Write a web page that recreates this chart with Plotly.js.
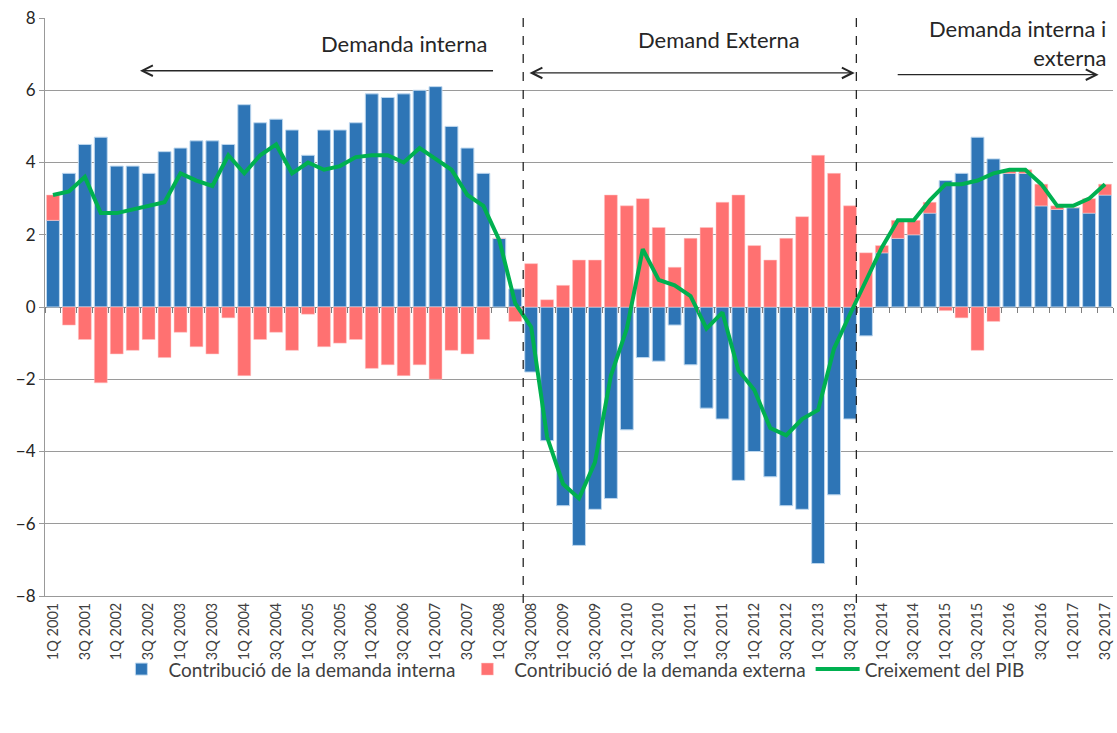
<!DOCTYPE html>
<html>
<head>
<meta charset="utf-8">
<script src="https://cdn.plot.ly/plotly-3.0.1.min.js"></script>
<style>html,body{margin:0;padding:0;background:#fff;}#chart{width:1117px;height:733px;}</style>
</head>
<body>
<div id="chart"></div>
<script>
// Quarter labels 1Q 2001 ... 3Q 2017
var years = [2001,2002,2003,2004,2005,2006,2007,2008,2009,2010,2011,2012,2013,2014,2015,2016,2017];
var quarterNames = ["1Q","2Q","3Q","4Q"];
var quarters = [];
years.forEach(function(y){ quarterNames.forEach(function(q){ quarters.push(q + " " + y); }); });
quarters = quarters.slice(0, 67);

// Contribució de la demanda interna
var demandaInterna = [
  2.4, 3.7, 4.5, 4.7, 3.9, 3.9, 3.7, 4.3,
  4.4, 4.6, 4.6, 4.5, 5.6, 5.1, 5.2, 4.9,
  4.2, 4.9, 4.9, 5.1, 5.9, 5.8, 5.9, 6.0,
  6.1, 5.0, 4.4, 3.7, 1.9, 0.5, -1.8, -3.7,
  -5.5, -6.6, -5.6, -5.3, -3.4, -1.4, -1.5, -0.5,
  -1.6, -2.8, -3.1, -4.8, -4.0, -4.7, -5.5, -5.6,
  -7.1, -5.2, -3.1, -0.8, 1.5, 1.9, 2.0, 2.6,
  3.5, 3.7, 4.7, 4.1, 3.7, 3.7, 2.8, 2.7,
  2.75, 2.6, 3.1
];
// Contribució de la demanda externa
var demandaExterna = [
  0.7, -0.5, -0.9, -2.1, -1.3, -1.2, -0.9, -1.4,
  -0.7, -1.1, -1.3, -0.3, -1.9, -0.9, -0.7, -1.2,
  -0.2, -1.1, -1.0, -0.9, -1.7, -1.6, -1.9, -1.6,
  -2.0, -1.2, -1.3, -0.9, 0.0, -0.4, 1.2, 0.2,
  0.6, 1.3, 1.3, 3.1, 2.8, 3.0, 2.2, 1.1,
  1.9, 2.2, 2.9, 3.1, 1.7, 1.3, 1.9, 2.5,
  4.2, 3.7, 2.8, 1.5, 0.2, 0.5, 0.4, 0.3,
  -0.1, -0.3, -1.2, -0.4, 0.1, 0.1, 0.6, 0.1,
  0.0, 0.4, 0.3
];
// Creixement del PIB
var creixementPIB = [
  3.1, 3.2, 3.6, 2.6, 2.6, 2.7, 2.8, 2.9,
  3.7, 3.5, 3.35, 4.2, 3.7, 4.2, 4.5, 3.7,
  4.0, 3.8, 3.9, 4.15, 4.2, 4.2, 4.0, 4.4,
  4.1, 3.8, 3.1, 2.8, 1.85, 0.1, -0.55, -3.6,
  -4.9, -5.3, -4.3, -1.9, -0.6, 1.6, 0.75, 0.6,
  0.3, -0.6, -0.15, -1.75, -2.3, -3.35, -3.55, -3.1,
  -2.85, -1.15, -0.2, 0.75, 1.65, 2.4, 2.4, 2.95,
  3.4, 3.4, 3.5, 3.7, 3.8, 3.8, 3.4, 2.8,
  2.8, 3.0, 3.4
];
var tickLabels = quarters.filter(function(q, i){ return i % 2 === 0; });

var FONT = "Lato, 'Open Sans', sans-serif";
var traces = [
  {type:'bar', name:'Contribució de la demanda interna', x:quarters, y:demandaInterna,
   marker:{color:'#2E75B6', line:{color:'#BDD7EE', width:1}}, hoverinfo:'x+y'},
  {type:'bar', name:'Contribució de la demanda externa', x:quarters, y:demandaExterna,
   marker:{color:'#FF7171', line:{color:'#FFC7C7', width:0.5}}, hoverinfo:'x+y'},
  {type:'scatter', mode:'lines', name:'Creixement del PIB', x:quarters, y:creixementPIB,
   line:{color:'#00B050', width:4}},
  {type:'scatter', mode:'lines', x:quarters, y:quarters.map(function(){return null;}),
   xaxis:'x2', showlegend:false, hoverinfo:'skip'}
];

var layout = {
  width:1117, height:733,
  margin:{l:45, r:4, t:18, b:137, autoexpand:false},
  paper_bgcolor:'#fff', plot_bgcolor:'#fff',
  barmode:'relative', bargap:0.19,
  font:{family:FONT, size:14, color:'#404040'},
  showlegend:true,
  legend:{orientation:'h', xref:'container', yref:'container', x:0.512, xanchor:'center',
          y:0.087, yanchor:'middle', bgcolor:'rgba(0,0,0,0)',
          font:{family:FONT, size:19, color:'#404040'}, traceorder:'normal', itemwidth:44},
  xaxis:{type:'category', tickmode:'array', tickvals:tickLabels, ticktext:tickLabels,
         tickangle:-90, tickfont:{family:FONT, size:14.5, color:'#404040'},
         showgrid:false, showline:true, linecolor:'#999999', linewidth:1,
         ticks:'', zeroline:false, range:[-0.5, 66.5], automargin:false},
  xaxis2:{type:'category', overlaying:'x', matches:'x', anchor:'free', position:0.5,
          showticklabels:false, ticks:'outside', ticklen:5, tickcolor:'#7F7F7F',
          tickson:'boundaries', showgrid:false, showline:false, zeroline:false},
  yaxis:{range:[-8, 8], dtick:2, tick0:-8, showgrid:true, gridcolor:'#9A9A9A', gridwidth:1,
         zeroline:true, zerolinecolor:'#7F7F7F', zerolinewidth:1,
         showline:true, linecolor:'#999999', linewidth:1, ticks:'outside', ticklen:5,
         tickcolor:'#999999', tickfont:{family:FONT, size:17, color:'#262626'}, automargin:false},
  shapes:[
    {type:'line', xref:'x', yref:'paper', x0:29.5, x1:29.5, y0:-0.012, y1:1.0,
     line:{color:'#262626', width:1.3, dash:'dash'}},
    {type:'line', xref:'x', yref:'paper', x0:50.4, x1:50.4, y0:-0.012, y1:1.0,
     line:{color:'#262626', width:1.3, dash:'dash'}}
  ],
  annotations:[
    {xref:'x', yref:'y', x:22.0, y:7.29, text:'Demanda interna', showarrow:false,
     font:{family:FONT, size:22, color:'#262626'}},
    {xref:'x', yref:'y', x:41.8, y:7.4, text:'Demand Externa', showarrow:false,
     font:{family:FONT, size:22, color:'#262626'}},
    {xref:'x', yref:'y', x:66.2, y:7.3, xanchor:'right', align:'right',
     text:'Demanda interna i<br>externa', showarrow:false,
     font:{family:FONT, size:22, color:'#262626'}},
    {xref:'x', yref:'y', axref:'x', ayref:'y', x:5.46, y:6.54, ax:27.7, ay:6.54, text:'',
     showarrow:true, arrowhead:5, arrowsize:1.6, arrowwidth:1.3, arrowcolor:'#262626'},
    {xref:'x', yref:'y', axref:'x', ayref:'y', x:50.3, y:6.48, ax:29.8, ay:6.48, text:'',
     showarrow:true, arrowhead:5, startarrowhead:5, arrowside:'end+start', arrowsize:1.6,
     startarrowsize:1.6, arrowwidth:1.3, arrowcolor:'#262626'},
    {xref:'x', yref:'y', axref:'x', ayref:'y', x:65.6, y:6.43, ax:52.9, ay:6.43, text:'',
     showarrow:true, arrowhead:5, arrowsize:1.6, arrowwidth:1.3, arrowcolor:'#262626'}
  ]
};

Plotly.newPlot('chart', traces, layout, {displayModeBar:false, staticPlot:true});
</script>
</body>
</html>
